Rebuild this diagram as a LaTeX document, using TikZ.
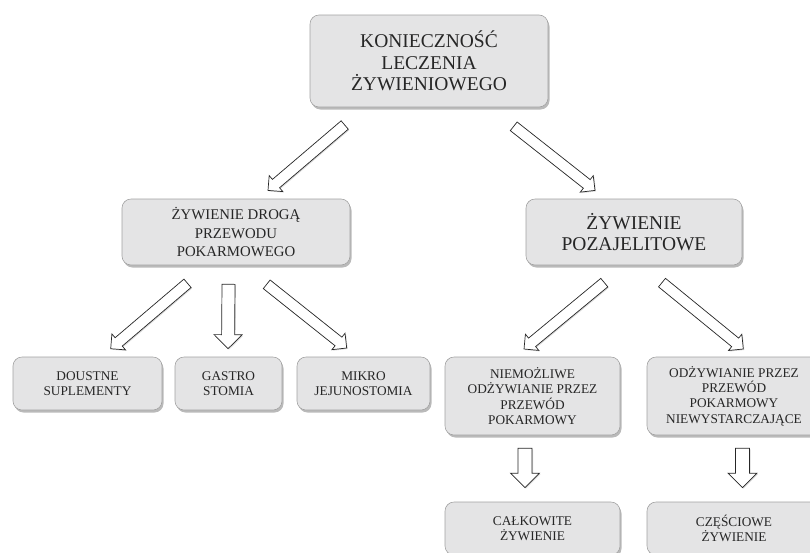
\documentclass[tikz,border=0pt]{standalone}
\usepackage{fontspec}
\setmainfont{Liberation Serif}
\usetikzlibrary{positioning,calc,shadows}
\definecolor{boxgray}{HTML}{E4E4E5}
\definecolor{boxline}{HTML}{A2A2A2}
\tikzset{
  box/.style={draw=boxline, fill=boxgray, rounded corners=9pt, align=center,
    inner sep=0pt, text=black!85, line width=.6pt,
    drop shadow={shadow xshift=1.5pt, shadow yshift=-2.5pt, fill=black!60, opacity=.45}},
  big/.style={box, font=\fontsize{19.5}{21.7}\selectfont},
  mid/.style={box, font=\fontsize{14.8}{18.3}\selectfont},
  small/.style={box, font=\fontsize{13.3}{15.3}\selectfont},
  blkarrow/.style={draw=black!85, fill=white, line width=.7pt, line join=miter,
    drop shadow={shadow xshift=1pt, shadow yshift=-1pt, opacity=.3}}
}
% hollow block arrow: tail, tip, half shaft, half head
\newcommand*{\blk}[4]{%
  \coordinate (hb) at ($(#2)!#4!(#1)$);
  \draw[blkarrow] ($(#1)!#3!90:(#2)$) -- ($(hb)!#3!-90:(#1)$) -- ($(hb)!#4!-90:(#1)$)
    -- (#2) -- ($(hb)!#4!90:(#1)$) -- ($(hb)!#3!90:(#1)$) -- ($(#1)!#3!-90:(#2)$) -- cycle;}

\begin{document}
\begin{tikzpicture}[x=1pt,y=-1pt]
\clip (0,0) rectangle (810,552);
\node[big, minimum width=238pt, minimum height=92pt] (need) at (429,61) {KONIECZNOŚĆ\\LECZENIA\\ŻYWIENIOWEGO};
\node[mid, minimum width=228pt, minimum height=66pt] (enteral) at (236,232) {ŻYWIENIE DROGĄ\\PRZEWODU\\POKARMOWEGO};
\node[big, minimum width=216pt, minimum height=66pt] (parenteral) at (634,232) {ŻYWIENIE\\POZAJELITOWE};
\node[small, minimum width=149pt, minimum height=53pt] (oral) at (87.5,383.5) {DOUSTNE\\SUPLEMENTY};
\node[small, minimum width=107pt, minimum height=53pt] (gastro) at (228.5,383.5) {GASTRO\\STOMIA};
\node[small, minimum width=133pt, minimum height=53pt] (jejuno) at (363.5,383.5) {MIKRO\\JEJUNOSTOMIA};
\node[small, minimum width=175pt, minimum height=78pt] (nogi) at (532.5,396) {NIEMOŻLIWE\\ODŻYWIANIE PRZEZ\\PRZEWÓD\\POKARMOWY};
\node[small, minimum width=174pt, minimum height=78pt] (lowgi) at (734,396) {ODŻYWIANIE PRZEZ\\PRZEWÓD\\POKARMOWY\\NIEWYSTARCZAJĄCE};
\node[small, minimum width=175pt, minimum height=53pt] (total) at (532.5,528.5) {CAŁKOWITE\\ŻYWIENIE};
\node[small, minimum width=174pt, minimum height=53pt] (partial) at (734,528.5) {CZĘŚCIOWE\\ŻYWIENIE};

% arrow ends
\coordinate (a1) at ($(need.south)+(-84.3,17.7)$);
\coordinate (b1) at ($(enteral.north)+(32,-8.3)$);
\coordinate (a2) at ($(need.south)+(84.7,19)$);
\coordinate (b2) at ($(parenteral.north)+(-39,-8.3)$);
\coordinate (a3) at ($(enteral.south)+(-48.5,18)$);
\coordinate (b3) at ($(oral.north)+(23.2,-8)$);
\coordinate (a4) at ($(enteral.south)+(-7.5,19)$);
\coordinate (b4) at ($(gastro.north)+(-0.5,-8)$);
\coordinate (a5) at ($(enteral.south)+(30.7,19)$);
\coordinate (b5) at ($(jejuno.north)+(-16.8,-8.7)$);
\coordinate (a6) at ($(parenteral.south)+(-29.7,17.3)$);
\coordinate (b6) at ($(nogi.north)+(-8.5,-7.7)$);
\coordinate (a7) at ($(parenteral.south)+(28,17.3)$);
\coordinate (b7) at ($(lowgi.north)+(9.3,-7.7)$);
\coordinate (a8) at ($(nogi.south)+(-7.5,13)$);
\coordinate (b8) at ($(total.north)+(-7.5,-14)$);
\coordinate (a9) at ($(lowgi.south)+(8.5,13)$);
\coordinate (b9) at ($(partial.north)+(8.5,-14)$);

\blk{a1}{b1}{5.5pt}{10.5pt}
\blk{a2}{b2}{5.5pt}{10.5pt}
\blk{a3}{b3}{5.5pt}{10.5pt}
\blk{a4}{b4}{6.5pt}{14pt}
\blk{a5}{b5}{5.5pt}{10.5pt}
\blk{a6}{b6}{5.5pt}{10.5pt}
\blk{a7}{b7}{5.5pt}{10.5pt}
\blk{a8}{b8}{7pt}{14.5pt}
\blk{a9}{b9}{7pt}{14.5pt}
\end{tikzpicture}
\end{document}
